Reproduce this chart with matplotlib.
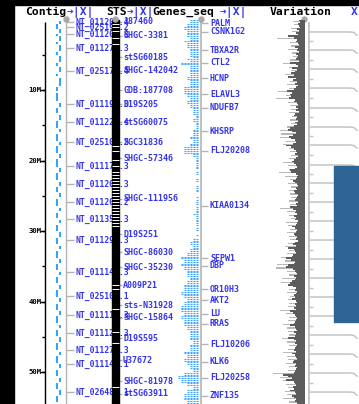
"""Recreate the chr19 map-viewer strip: ruler, contigs, STS, genes, variation."""
import matplotlib

matplotlib.use("Agg")
import matplotlib.pyplot as plt
import numpy as np

# ---------------- data (positions in Mb) ----------------
RULER_TICKS = [5, 10, 15, 20, 25, 30, 35, 40, 45, 50]
RULER_LABELS = ["10M", "20M", "30M", "40M", "50M"]
RULER_LABEL_POS = [10, 20, 30, 40, 50]

CONTIG_NAMES = ["NT_011207.4", "NT_025191.2", "NT_011208.8", "NT_011270.3",
                "NT_025178.4", "NT_011196.3", "NT_011228.4", "NT_025108.2",
                "NT_011179.3", "NT_011206.3", "NT_011208.2", "NT_011352.3",
                "NT_011295.3", "NT_011145.3", "NT_025101.1", "NT_011112.3",
                "NT_011121.3", "NT_011271.3", "NT_011149.1", "NT_026486.1"]
CONTIG_POS = [0.35, 1.06, 2.06, 4.04, 7.30, 11.99, 14.54, 17.38, 20.78, 23.33,
              25.89, 28.30, 31.28, 35.82, 39.22, 41.91, 44.47, 46.88, 48.87, 52.84]

SEG_START = [0.2, 0.7, 1.4, 2.0, 2.4, 3.2, 3.6, 4.6, 5.2, 6.2, 6.8, 7.7, 8.3, 9.6,
             10.4, 11.8, 12.6, 13.5, 14.4, 15.6, 16.3, 17.4, 18.0, 19.1, 19.8,
             21.1, 21.8, 23.0, 23.8, 24.6, 25.5, 26.7, 27.4, 28.4, 29.1, 30.2,
             31.0, 32.1, 32.8, 34.0, 34.7, 35.8, 36.5, 37.6, 38.4, 39.5, 40.3,
             41.4, 42.1, 43.3, 44.0, 45.1, 45.9, 47.1, 47.8, 48.9, 49.7, 50.8,
             51.6, 52.6, 53.4]
SEG_END = [0.6, 1.3, 1.9, 2.3, 3.0, 3.5, 4.4, 5.0, 6.0, 6.6, 7.5, 8.0, 9.4, 10.2,
           11.6, 12.4, 13.2, 14.2, 15.4, 16.0, 17.2, 17.8, 18.9, 19.6, 20.9,
           21.6, 22.8, 23.6, 24.4, 25.2, 26.5, 27.2, 28.2, 28.9, 30.0, 30.8,
           31.9, 32.6, 33.8, 34.5, 35.6, 36.3, 37.4, 38.2, 39.3, 40.1, 41.2,
           41.9, 43.1, 43.8, 44.9, 45.7, 46.9, 47.6, 48.7, 49.5, 50.6, 51.4,
           52.4, 53.2, 54.3]
SEG_COL = [1, 0, 1, 0, 1, 0, 1, 0, 1, 0, 1, 0, 1, 0, 0, 1, 0, 1, 0, 1, 0, 1, 0,
           1, 0, 1, 0, 1, 0, 1, 0, 1, 0, 1, 0, 1, 0, 1, 0, 1, 0, 1, 0, 1, 0, 1,
           0, 1, 0, 1, 0, 1, 0, 1, 0, 1, 0, 1, 0, 1, 0]

STS_NAMES = ["187460", "SHGC-3381", "stSG60185", "SHGC-142042", "GDB:187708",
             "D19S205", "stSG60075", "SGC31836", "SHGC-57346", "SHGC-111956",
             "D19S251", "SHGC-86030", "SHGC-35230", "A009P21", "sts-N31928",
             "SHGC-15864", "D19S595", "U37672", "SHGC-81978", "stSG63911"]
STS_POS = [0.35, 2.34, 5.32, 7.30, 10.0, 11.99, 14.54, 17.38, 19.65, 25.46,
           30.43, 32.98, 35.11, 37.66, 40.50, 42.34, 45.18, 48.30, 51.28, 53.12]
STS_GAPS = [0.64, 1.06, 1.63, 2.62, 3.48, 17.94, 18.65, 19.93, 20.78, 21.63,
            22.06, 22.48, 22.91, 23.33, 23.76, 24.18, 24.61, 25.04, 25.46,
            25.89, 26.31, 26.74, 27.16, 27.59, 28.01, 28.44, 28.87, 29.29,
            37.66, 38.23, 41.06, 44.33, 45.89, 52.13]

GENE_NAMES = ["PALM", "CSNK1G2", "TBXA2R", "CTL2", "HCNP", "ELAVL3", "NDUFB7",
              "KHSRP", "FLJ20208", "KIAA0134", "SEPW1", "DBP", "OR10H3", "AKT2",
              "LU", "RRAS", "FLJ10206", "KLK6", "FLJ20258", "ZNF135"]
GENE_POS = [0.50, 1.77, 4.33, 6.17, 8.30, 10.57, 12.55, 15.82, 18.65, 26.45,
            33.83, 34.96, 38.23, 39.79, 41.77, 43.19, 46.03, 48.58, 50.85, 53.40]
# gene models per 0.5 Mb bin
GENE_COUNTS = [6, 8, 10, 8, 8, 6, 9, 8, 6, 6,
               5, 7, 12, 6, 6, 6, 8, 6, 6, 10,
               10, 8, 6, 8, 6, 4, 4, 2, 4, 2,
               2, 4, 4, 6, 4, 6, 10, 10, 4, 2,
               2, 2, 1, 2, 0, 2, 0, 2, 2, 0,
               1, 2, 1, 2, 2, 3, 2, 2, 1, 2,
               0, 1, 4, 6, 4, 6, 8, 12, 10, 12,
               10, 8, 8, 6, 8, 10, 10, 12, 10, 8,
               10, 12, 12, 10, 12, 10, 10, 8, 6, 6,
               6, 4, 6, 6, 10, 8, 10, 8, 6, 4,
               10, 14, 12, 8, 4, 8, 10, 10, 8]

# variation density, 0.25 Mb bins (dark) and 0.5 Mb bins (light)
VAR_DARK = [6, 5, 7, 6, 5, 8, 6, 9, 7, 17,
            11, 8, 9, 7, 6, 10, 7, 8, 6, 9,
            7, 8, 9, 6, 15, 9, 7, 13, 8, 10,
            14, 11, 17, 9, 12, 8, 10, 7, 9, 11,
            18, 13, 15, 14, 16, 10, 11, 8, 7, 9,
            7, 9, 6, 10, 11, 8, 9, 7, 10, 8,
            11, 15, 17, 13, 9, 12, 16, 14, 10, 9,
            12, 19, 14, 11, 9, 8, 10, 7, 9, 11,
            13, 11, 9, 8, 10, 15, 14, 9, 7, 8,
            9, 12, 10, 8, 7, 9, 8, 11, 10, 7,
            8, 9, 10, 7, 9, 8, 15, 12, 9, 10,
            8, 11, 9, 10, 7, 8, 9, 13, 10, 8,
            9, 11, 10, 8, 9, 7, 10, 12, 9, 17,
            11, 10, 9, 12, 13, 19, 14, 10, 11, 17,
            19, 12, 10, 9, 8, 11, 9, 10, 13, 15,
            17, 12, 9, 10, 8, 9, 11, 10, 13, 9,
            8, 10, 9, 11, 9, 15, 12, 10, 9, 8,
            9, 10, 11, 15, 10, 9, 8, 11, 9, 10,
            17, 11, 9, 10, 8, 9, 10, 11, 9, 13,
            10, 9, 8, 11, 12, 9, 10, 8, 9, 10,
            11, 22, 17, 13, 19, 11, 10, 9, 12, 11,
            15, 10, 9, 13, 11, 9, 10, 8]
VAR_LIGHT = [12, 11, 14, 13, 16, 28, 15, 14, 17, 13,
             12, 15, 22, 16, 14, 20, 17, 15, 18, 16,
             27, 19, 29, 17, 15, 14, 16, 13, 15, 14,
             18, 25, 24, 25, 19, 22, 16, 15, 14, 16,
             22, 17, 16, 26, 20, 15, 17, 14, 16, 15,
             14, 16, 15, 25, 18, 16, 14, 19, 17, 15,
             18, 16, 15, 17, 20, 16, 18, 24, 20, 28,
             29, 18, 16, 23, 24, 17, 16, 18, 15, 17,
             16, 17, 25, 19, 16, 17, 22, 18, 17, 16,
             23, 18, 16, 17, 22, 18, 17, 19, 16, 17,
             32, 25, 22, 19, 17, 20, 18, 22, 16]

SIDE_LINES = [1.77, 4.33, 7.02, 9.72, 12.55, 15.25, 17.80, 20.64, 23.19, 25.89,
              28.58, 31.28, 33.97, 36.67, 39.36, 42.06, 44.75, 47.45, 50.14, 52.84]
SIDE_BOX = [20.78, 42.91]

# ---------------- layout / style ----------------
W, H = 359, 404
PX_PER_MB, MB0_PX = 7.05, 19.5
TOP_MB = -MB0_PX / PX_PER_MB
BOT_MB = (H - MB0_PX) / PX_PER_MB
HEAD_Y = (12 - MB0_PX) / PX_PER_MB
HANDLE_Y = (19 - MB0_PX) / PX_PER_MB

LABEL_BLUE = "#3434e8"
DOT_BLUE = "#3aa2ff"
GREY = "#b4b4b4"
MONO = ["DejaVu Sans Mono", "DejaVu Sans"]


def main():
    fig = plt.figure(figsize=(W / 100, H / 100), dpi=100, facecolor="white")
    ax = fig.add_axes([0, 0, 1, 1])
    ax.set_xlim(0, W)
    ax.set_ylim(BOT_MB, TOP_MB)
    ax.axis("off")

    # black frame edges
    ax.axvspan(0, 14, color="black", zorder=10)
    ax.axhspan(TOP_MB, TOP_MB + 5 / PX_PER_MB, color="black", zorder=10)

    # headers
    hk = dict(family=MONO, weight="bold", va="center", fontsize=8.2)
    ax.text(25, HEAD_Y, "Contig", color="black", **hk)
    ax.text(67, HEAD_Y, "➔|X|", color=LABEL_BLUE, **hk)
    ax.text(106, HEAD_Y, "STS", color="black", **hk)
    ax.text(127, HEAD_Y, "➔|X|", color=LABEL_BLUE, **hk)
    ax.text(152, HEAD_Y, "Genes_seq", color="black", **hk)
    ax.text(220, HEAD_Y, "➔|X|", color=LABEL_BLUE, **hk)
    ax.text(270, HEAD_Y, "Variation", color="black", **hk)
    ax.text(351, HEAD_Y, "X", color=LABEL_BLUE, **hk)

    # ruler
    ax.vlines(45, 0.3, BOT_MB, color="black", lw=1)
    ax.hlines(RULER_TICKS, 42, 45, color="black", lw=1)
    ax.hlines(RULER_LABEL_POS, 40, 45, color="black", lw=1)
    for lab, y in zip(RULER_LABELS, RULER_LABEL_POS):
        ax.text(41.5, y, lab, ha="right", va="center", family=MONO,
                weight="bold", fontsize=5.2)

    # handles
    ax.plot([66, 115, 201, 304], [HANDLE_Y] * 4, "o", ms=3.6,
            color="#a8a8a8", zorder=6)

    # contig track
    ax.vlines(66, HANDLE_Y, BOT_MB, color=GREY, lw=1)
    ax.vlines(57 + 3 * np.array(SEG_COL), SEG_START, SEG_END,
              color="#1a9cff", lw=1.3)
    ax.hlines(CONTIG_POS, 66, 74, color=GREY, lw=1)
    for name, y in zip(CONTIG_NAMES, CONTIG_POS):
        ax.text(75, y, name, color=LABEL_BLUE, family=MONO, weight="bold",
                fontsize=5.9, va="center", zorder=2)

    # STS track
    ax.fill_betweenx([0.1, BOT_MB], 112, 119, color="black", zorder=4)
    ax.hlines(STS_GAPS, 112, 119, color="white", lw=0.7, zorder=5)
    ax.hlines(STS_POS, 119, 122, color=GREY, lw=1, zorder=3)
    for name, y in zip(STS_NAMES, STS_POS):
        ax.text(123, y, name, color=LABEL_BLUE, family=MONO, weight="bold",
                fontsize=6.0, va="center", zorder=3)

    # genes track: gene models stacked per bin, leftwards from the axis line
    for i, c in enumerate(GENE_COUNTS):
        k = np.arange(c)
        ys = i * 0.5 + 0.12 + 0.25 * (k % 2)
        xs = 198 - 3 * (k // 2)
        ax.hlines(ys, xs - 2, xs, color=DOT_BLUE, lw=0.8)
    ax.vlines(201, HANDLE_Y, BOT_MB, color=GREY, lw=1.2)
    ax.hlines(GENE_POS, 201, 208, color=GREY, lw=1)
    for name, y in zip(GENE_NAMES, GENE_POS):
        ax.text(210, y, name, color=LABEL_BLUE, family=MONO, weight="bold",
                fontsize=6.0, va="center")

    # variation histogram in its own axes
    vax = fig.add_axes([270 / W, 0, 35 / W, 1])
    vax.set_xlim(35, 0)
    vax.set_ylim(BOT_MB, TOP_MB)
    vax.axis("off")
    yl = 0.25 + 0.5 * np.arange(len(VAR_LIGHT))
    vax.barh(yl, VAR_LIGHT, height=0.16, color="#b8b8b8", zorder=1)
    yd = 0.125 + 0.25 * np.arange(len(VAR_DARK))
    vax.barh(yd, VAR_DARK, height=0.25, color="#5c5c5c", zorder=2)

    # side scale track and box
    ax.vlines(309, 0.3, BOT_MB, color="#c4c4c4", lw=1.3)
    mids = (np.array(SIDE_LINES[:-1]) + np.array(SIDE_LINES[1:])) / 2
    ax.hlines(mids, 309, 313, color="#c4c4c4", lw=1)
    for y in SIDE_LINES:
        ax.plot([310, 350, 354, 357], [y, y, y + 0.08, y + 0.45],
                color="#c4c4c4", lw=1.1)
    ax.fill_betweenx(SIDE_BOX, 334, W, color="#2f6496", zorder=7)

    fig.savefig("out.png", dpi=100, facecolor="white")


if __name__ == "__main__":
    main()
